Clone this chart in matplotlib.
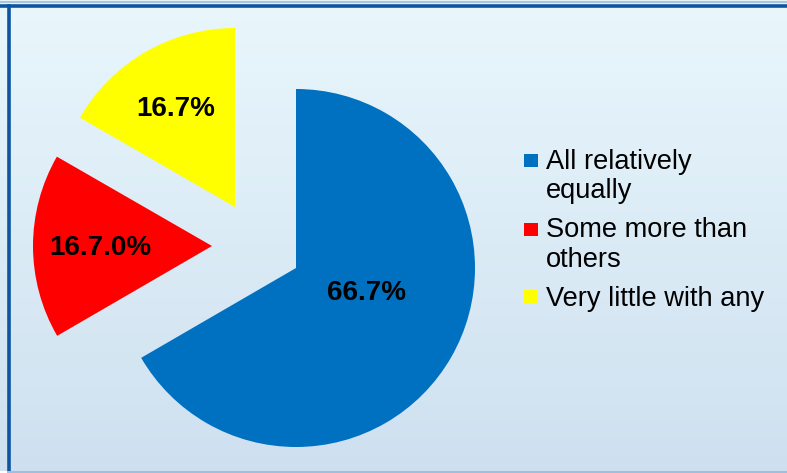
import numpy as np
import matplotlib.pyplot as plt
from matplotlib.lines import Line2D
from matplotlib.patches import Rectangle
from matplotlib.legend_handler import HandlerPatch

labels = ['All relatively\nequally', 'Some more than\nothers', 'Very little with any']
values = [66.7, 16.7, 16.7]
pct_text = ['66.7%', '16.7.0%', '16.7%']
colors = ['#0070C0', '#FF0000', '#FFFF00']

plt.rcParams['font.family'] = ['Liberation Sans', 'DejaVu Sans']

W, H = 787, 473
fig = plt.figure(figsize=(W / 100, H / 100), dpi=100, facecolor='white')

# background gradient panel
bg = fig.add_axes([0, 0, 1, 1], zorder=0)
grad = np.linspace(0, 1, 256).reshape(-1, 1)
top = np.array([0.914, 0.969, 0.988])
bot = np.array([0.808, 0.878, 0.941])
img = top + (bot - top) * grad[:, :, None]
bg.imshow(img, aspect='auto', extent=[0, 1, 0, 1])
bg.set_xlim(0, 1)
bg.set_ylim(0, 1)
bg.axis('off')

# border lines (pixel positions converted to figure fraction)
def fx(px):
    return px / W

def fy(py):
    return 1 - py / H

fig.add_artist(Line2D([fx(0), fx(W)], [fy(2.5), fy(2.5)], color='#A9C4DE', lw=1.5))
fig.add_artist(Line2D([fx(0), fx(W)], [fy(6.5), fy(6.5)], color='#0D55A0', lw=2.6))
fig.add_artist(Line2D([fx(8.5), fx(8.5)], [fy(6), fy(H)], color='#0D55A0', lw=2.6))
fig.add_artist(Line2D([fx(0), fx(W)], [fy(471.5), fy(471.5)], color='#9DBFE0', lw=1.5))
fig.add_artist(Line2D([fx(0), fx(6)], [fy(471.5), fy(471.5)], color='white', lw=1.5))

# pie, 1 data unit = 179 px, centre at (296, 268)
r = 179.0
ax = fig.add_axes([0, 0, 1, 1], zorder=1)
ax.patch.set_alpha(0)
wedges, _ = ax.pie(values, colors=colors, startangle=90, counterclock=False,
                   radius=1.0, wedgeprops=dict(linewidth=0))
wedges[1].set_center((-84 / r, 22 / r))
wedges[2].set_center((-61 / r, 61 / r))
ax.set_xlim(-296 / r, (W - 296) / r)
ax.set_ylim(-(H - 268) / r, 268 / r)
ax.set_aspect('auto')
ax.axis('off')

label_pos = [((367 - 296) / r, (268 - 293) / r),
             ((100 - 296) / r, (268 - 248) / r),
             ((176 - 296) / r, (268 - 109) / r)]
for (x, y), t in zip(label_pos, pct_text):
    ax.text(x, y, t, ha='center', va='center', fontsize=20, fontweight='bold', color='black')

# legend squares sit on the first line of each label
FS = 19.6
lifts = {wedges[0]: 0.64, wedges[1]: 0.62, wedges[2]: 0.02}

def square(legend, orig_handle, xdescent, ydescent, width, height, fontsize):
    return Rectangle((-xdescent, -ydescent + lifts[orig_handle] * fontsize), width, width)

leg = ax.legend(wedges, labels, loc='upper left', bbox_to_anchor=(fx(524), fy(149)),
                bbox_transform=fig.transFigure, frameon=False, fontsize=FS,
                handlelength=0.51, handleheight=0.51, handletextpad=0.3,
                labelspacing=0.48, borderaxespad=0, borderpad=0,
                handler_map={w: HandlerPatch(patch_func=square) for w in wedges})
for t in leg.get_texts():
    t.set_linespacing(1.17)

fig.savefig('out.png', dpi=100, facecolor='white')
